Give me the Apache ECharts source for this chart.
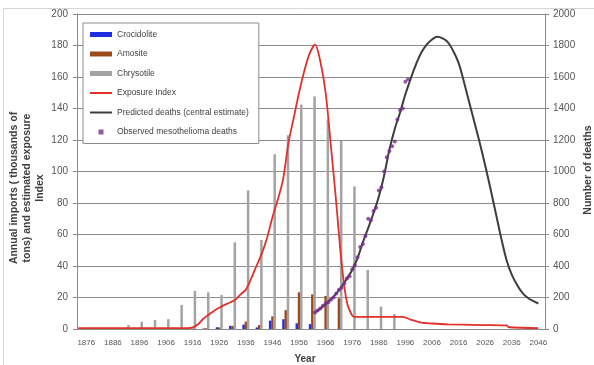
<!DOCTYPE html>
<html><head><meta charset="utf-8">
<script src="https://cdn.jsdelivr.net/npm/echarts@6/dist/echarts.min.js"></script>
<style>html,body{margin:0;padding:0;background:#fff}#c{width:594px;height:365px}</style>
</head><body><div id="c"></div>
<script>
// ---- data ----
const firstYear = 1873, lastYear = 2048;
const xLabelYears = [1876,1886,1896,1906,1916,1926,1936,1946,1956,1966,1976,1986,1996,2006,2016,2026,2036,2046];

const barYears    = [1891,1896,1901,1906,1911,1916,1921,1926,1931,1936,1941,1946,1951,1956,1961,1966,1971,1976,1981,1986,1991];
const crocidolite = [0,0,0,0,0,0,0.3,1.1,2,2.8,1,5.3,6.2,3.6,3.1,0,0,0,0,0,0];
const amosite     = [0,0,0,0,0,0.3,0.5,1,2,4.7,2.5,8,12,23.3,22,21,19.5,0,0,0,0];
const chrysotile  = [2.5,4.6,5.7,6.2,15.3,24.2,23.3,21.6,55,88,56.6,111,123,142.5,147.7,133,119.6,90.5,37.5,14.2,9.5];

const exposureYears = [1873,1914,1916,1918,1920,1922,1924,1926,1928,1930,1932,1934,1936,1938,1940,1942,1944,1946,1948,1950,1952,1954,1956,1958,1960,1962,1964,1966,1968,1970,1972,1974,1976,1977,1995,1998,2002,2006,2012,2024,2034,2035,2046];
const exposureIndex = [0.5,0.5,1,3,6.5,9,11.5,13.5,15.3,16.8,18.5,22,25,32,40,48,58,71,82,95,118,134,150,164,175,180.5,170,150,116,80,42,17,8.5,7.7,7.7,6,4,3.5,3,2.5,2.3,1.1,0.6];

const predictedYears  = [1962,1964,1966,1968,1970,1972,1974,1976,1978,1980,1982,1984,1986,1988,1990,1992,1994,1996,1998,2000,2002,2004,2006,2008,2010,2012,2014,2016,2018,2020,2022,2024,2026,2028,2030,2032,2034,2036,2038,2040,2042,2044,2046];
const predictedDeaths = [105,130,158,190,225,268,320,375,450,550,640,735,840,975,1140,1270,1375,1490,1590,1680,1755,1805,1838,1855,1845,1820,1765,1690,1570,1440,1310,1180,1040,890,735,580,440,345,280,230,198,178,162];

const observedYears  = [1962,1963,1964,1965,1966,1967,1968,1969,1970,1971,1972,1973,1974,1975,1976,1977,1978,1979,1980,1981,1982,1983,1984,1985,1986,1987,1988,1989,1990,1991,1992,1993,1994,1995,1996,1997];
const observedDeaths = [105,118,130,148,160,170,185,200,225,250,262,290,320,335,380,405,455,520,540,590,700,690,750,770,880,900,1000,1090,1130,1160,1190,1330,1390,1400,1570,1585];

// ---- build ----
const years = [];
for (let y = firstYear; y <= lastYear; y++) years.push(String(y));
function fill(ys, vs) {
  const arr = years.map(() => null);
  ys.forEach((y, i) => { arr[y - firstYear] = vs[i]; });
  return arr;
}
const FONT = '"Liberation Sans", Arial, sans-serif';
const LINE_ICON = 'path://M0,0L11,0L11,1L0,1Z';
const chart = echarts.init(document.getElementById('c'));
const barCommon = { type: 'bar', barWidth: 2.5, barGap: '-10%', yAxisIndex: 0, z: 2 };
chart.setOption({
  animation: false,
  backgroundColor: '#fff',
  textStyle: { fontFamily: FONT },
  grid: { left: 77, right: 49, top: 14, bottom: 36, containLabel: false },
  xAxis: {
    type: 'category', data: years, boundaryGap: true,
    axisLine: { lineStyle: { color: '#8a8a8a', width: 1 } },
    axisTick: { show: false },
    axisLabel: { interval: (i, v) => xLabelYears.includes(Number(v)), fontSize: 8, color: '#555', margin: 10, fontFamily: FONT },
    splitLine: { show: false }
  },
  yAxis: [
    { type: 'value', min: 0, max: 200, interval: 20,
      axisLine: { show: true, lineStyle: { color: '#8a8a8a' } },
      axisTick: { show: true, length: 4, lineStyle: { color: '#8a8a8a' } },
      axisLabel: { fontSize: 10, color: '#555', margin: 9, fontFamily: FONT, formatter: v => String(v) },
      splitLine: { show: true, lineStyle: { color: '#8e8e8e', width: 1 } } },
    { type: 'value', min: 0, max: 2000, interval: 200, position: 'right',
      axisLine: { show: true, lineStyle: { color: '#8a8a8a' } },
      axisTick: { show: true, length: 4, lineStyle: { color: '#8a8a8a' } },
      axisLabel: { fontSize: 10, color: '#555', margin: 8, fontFamily: FONT, formatter: v => String(v) },
      splitLine: { show: false } }
  ],
  legend: {
    orient: 'vertical', left: 83, top: 23, padding: [7, 10, 7, 7], itemGap: 10.5,
    itemWidth: 22, itemHeight: 5, backgroundColor: '#fff', borderColor: '#8c8c8c', borderWidth: 1,
    textStyle: { fontSize: 8.5, color: '#404040', fontFamily: FONT },
    data: [
      { name: 'Crocidolite', icon: 'rect' },
      { name: 'Amosite', icon: 'rect' },
      { name: 'Chrysotile', icon: 'rect' },
      { name: 'Exposure Index', icon: LINE_ICON },
      { name: 'Predicted deaths (central estimate)', icon: LINE_ICON },
      { name: 'Observed mesothelioma deaths', icon: 'path://M0,0L1,0L1,1L0,1Z', itemStyle: { color: '#7b2d8e' } }
    ]
  },
  graphic: [
    { type: 'rect', silent: true, shape: { x: 3.5, y: 8.5, width: 640, height: 420 }, style: { fill: null, stroke: '#d6d6d6', lineWidth: 1 }, z: -10 },
    { type: 'text', x: 27, y: 188, rotation: Math.PI / 2,
      style: { text: 'Annual imports ( thousands of\ntons) and estimated exposure\nIndex', textAlign: 'center', textVerticalAlign: 'middle', font: 'bold 10.5px ' + FONT, fill: '#404040', lineHeight: 13.3 } },
    { type: 'text', x: 588, y: 170, rotation: Math.PI / 2,
      style: { text: 'Number of deaths', textAlign: 'center', textVerticalAlign: 'middle', font: 'bold 10.5px ' + FONT, fill: '#404040' } },
    { type: 'text', x: 305, y: 359,
      style: { text: 'Year', textAlign: 'center', textVerticalAlign: 'middle', font: 'bold 10px ' + FONT, fill: '#404040' } }
  ],
  series: [
    Object.assign({ name: 'Crocidolite', data: fill(barYears, crocidolite), itemStyle: { color: '#1f2ee0' } }, barCommon),
    Object.assign({ name: 'Amosite', data: fill(barYears, amosite), itemStyle: { color: '#9c4a1c' } }, barCommon),
    Object.assign({ name: 'Chrysotile', data: fill(barYears, chrysotile), itemStyle: { color: '#a3a3a3' } }, barCommon),
    { name: 'Exposure Index', type: 'line', yAxisIndex: 0, data: fill(exposureYears, exposureIndex), connectNulls: true,
      symbol: 'none', smooth: 0.3, lineStyle: { color: '#e0312b', width: 1.8 }, itemStyle: { color: '#e0312b' }, z: 3 },
    { name: 'Predicted deaths (central estimate)', type: 'line', yAxisIndex: 1, data: fill(predictedYears, predictedDeaths), connectNulls: true,
      symbol: 'none', smooth: 0.4, lineStyle: { color: '#3d3d3d', width: 2 }, itemStyle: { color: '#3d3d3d' }, z: 4 },
    { name: 'Observed mesothelioma deaths', type: 'scatter', yAxisIndex: 1, data: fill(observedYears, observedDeaths),
      symbol: 'circle', symbolSize: 4, itemStyle: { color: '#7b2d8e' }, z: 5 }
  ]
});
</script></body></html>
